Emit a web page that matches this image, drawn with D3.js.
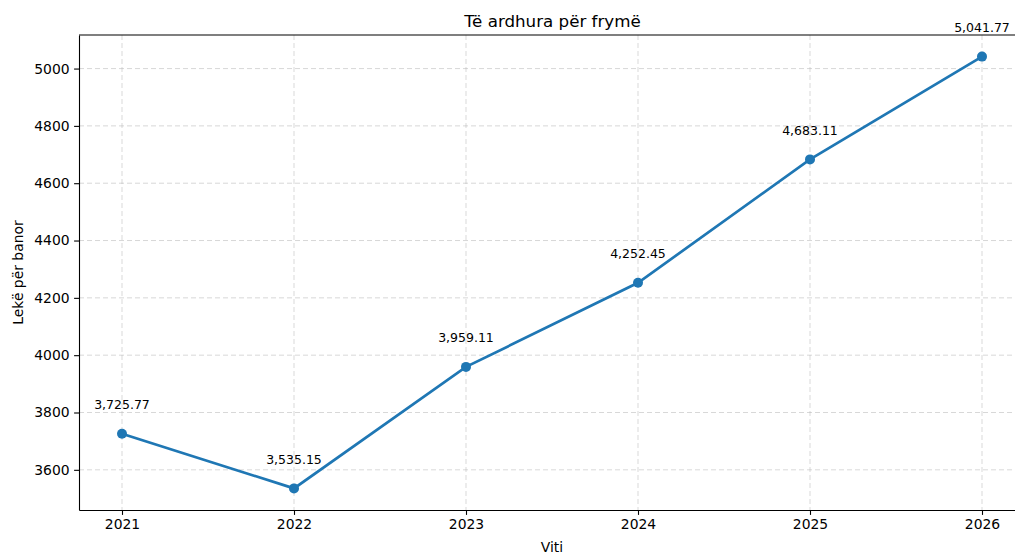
<!DOCTYPE html>
<html>
<head>
<meta charset="utf-8">
<script src="https://cdn.jsdelivr.net/npm/d3@7"></script>
<style>
  body { margin: 0; background: #fff; }
  text { font-family: "DejaVu Sans", sans-serif; fill: #000; }
</style>
</head>
<body>
<div id="chart"></div>
<script>
// data
const years = [2021, 2022, 2023, 2024, 2025, 2026];
const income = [3725.77, 3535.15, 3959.11, 4252.45, 4683.11, 5041.77];
const yTicks = [3600, 3800, 4000, 4200, 4400, 4600, 4800, 5000];

const width = 1015, height = 554;
const margin = {top: 35, right: -10, bottom: 44, left: 79};

const svg = d3.select("#chart").append("svg")
    .attr("width", width)
    .attr("height", height);

// matplotlib style 5% padding around data
const xPad = (d3.max(years) - d3.min(years)) * 0.05;
const yMin = d3.min(income), yMax = d3.max(income);
const yPad = (yMax - yMin) * 0.05;

const x = d3.scaleLinear()
    .domain([d3.min(years) - xPad, d3.max(years) + xPad])
    .range([margin.left, width - margin.right]);

const y = d3.scaleLinear()
    .domain([yMin - yPad, yMax + yPad])
    .range([height - margin.bottom, margin.top]);

const fmt = d3.format(",.2f");

// grid
const grid = svg.append("g").attr("stroke", "#b0b0b0").attr("stroke-opacity", 0.55)
    .attr("stroke-width", 0.9).attr("stroke-dasharray", "5,3");
grid.selectAll(".gx").data(years).enter().append("line")
    .attr("x1", d => x(d)).attr("x2", d => x(d))
    .attr("y1", margin.top).attr("y2", height - margin.bottom);
grid.selectAll(".gy").data(yTicks).enter().append("line")
    .attr("x1", margin.left).attr("x2", width - margin.right)
    .attr("y1", d => y(d)).attr("y2", d => y(d));

// axes
const xAxis = svg.append("g")
    .attr("transform", "translate(0," + (height - margin.bottom) + ")")
    .call(d3.axisBottom(x).tickValues(years).tickFormat(d3.format("d"))
        .tickSizeInner(4.9).tickSizeOuter(0).tickPadding(4.5));
const yAxis = svg.append("g")
    .attr("transform", "translate(" + margin.left + ",0)")
    .call(d3.axisLeft(y).tickValues(yTicks).tickFormat(d3.format("d"))
        .tickSizeInner(4.9).tickSizeOuter(0).tickPadding(4.5));
[xAxis, yAxis].forEach(a => {
  a.selectAll("text").style("font-size", "13.9px").attr("fill", "#000");
  a.selectAll("line").attr("stroke", "#000").attr("stroke-width", 1.1);
  a.select(".domain").attr("stroke", "#000").attr("stroke-width", 1.1);
});

// top spine
svg.append("line")
    .attr("x1", margin.left).attr("x2", width - margin.right)
    .attr("y1", margin.top).attr("y2", margin.top)
    .attr("stroke", "#000").attr("stroke-width", 1.1);

// line and points
const line = d3.line().x((d, i) => x(years[i])).y(d => y(d));
svg.append("path")
    .datum(income)
    .attr("d", line)
    .attr("fill", "none")
    .attr("stroke", "#1f77b4")
    .attr("stroke-width", 2.7);

svg.selectAll(".dot").data(income).enter().append("circle")
    .attr("cx", (d, i) => x(years[i]))
    .attr("cy", d => y(d))
    .attr("r", 5)
    .attr("fill", "#1f77b4");

// value labels
svg.selectAll(".lbl").data(income).enter().append("text")
    .attr("x", (d, i) => x(years[i]))
    .attr("y", d => y(d) - 24.5)
    .attr("text-anchor", "middle")
    .style("font-size", "12.5px")
    .text(d => fmt(d));

// title and axis labels
svg.append("text")
    .attr("x", (margin.left + 1025) / 2 + 0.5)
    .attr("y", 27)
    .attr("text-anchor", "middle")
    .style("font-size", "16.7px")
    .text("Të ardhura për frymë");

svg.append("text")
    .attr("x", (margin.left + 1025) / 2)
    .attr("y", 552)
    .attr("text-anchor", "middle")
    .style("font-size", "13.9px")
    .text("Viti");

svg.append("text")
    .attr("transform", "translate(23," + ((margin.top + height - margin.bottom) / 2) + ") rotate(-90)")
    .attr("text-anchor", "middle")
    .style("font-size", "13.9px")
    .text("Lekë për banor");
</script>
</body>
</html>
